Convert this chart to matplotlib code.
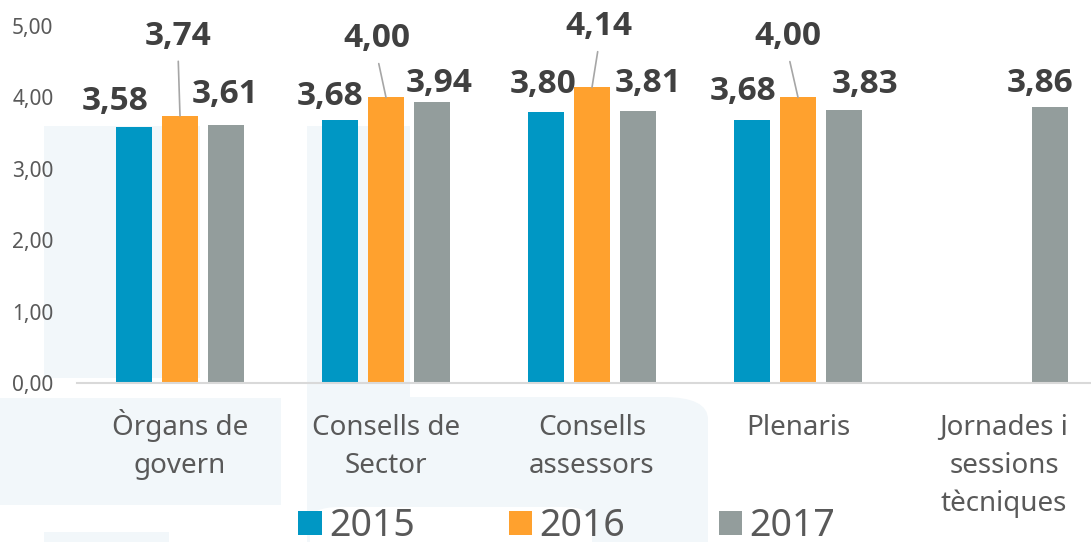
import numpy as np
import matplotlib
matplotlib.use("Agg")
import matplotlib.pyplot as plt
from matplotlib.patches import Rectangle, FancyBboxPatch

plt.rcParams['font.family'] = ['Noto Sans', 'DejaVu Sans']

# data
categories = ["Òrgans de\ngovern", "Consells de\nSector", "Consells\nassessors",
              "Plenaris", "Jornades i\nsessions\ntècniques"]
years = ["2015", "2016", "2017"]
vals_2015 = [3.58, 3.68, 3.80, 3.68, np.nan]
vals_2016 = [3.74, 4.00, 4.14, 4.00, np.nan]
vals_2017 = [3.61, 3.94, 3.81, 3.83, 3.86]
yticks = [0, 1, 2, 3, 4, 5]

colors = ["#0097C4", "#FFA12E", "#939D9C"]
# label offsets (pixels) from bar top, hand placed like the original
label_offsets = [
    [(-19, 17), (-10, 15), (-3, 19), (-9, 20), None],
    [(-2, 71), (-9, 50), (7, 52), (-10, 52), None],
    [(0, 22), (8, 10), (11, 19), (21, 17), (-10, 15)],
]
leader = [False, True, False]

W, H = 1091, 542
fig = plt.figure(figsize=(W / 100, H / 100), dpi=100)
fig.patch.set_facecolor("white")

# faint decorative background blocks
bg = "#F2F7FA"
def px_rect(x0, y0, x1, y1, color=bg, round_pad=None):
    if round_pad:
        p = FancyBboxPatch((x0 / W, 1 - y1 / H), (x1 - x0) / W, (y1 - y0) / H,
                           boxstyle=f"round,pad=0,rounding_size={round_pad / W}",
                           transform=fig.transFigure, facecolor=color,
                           edgecolor="none", zorder=-2)
    else:
        p = Rectangle((x0 / W, 1 - y1 / H), (x1 - x0) / W, (y1 - y0) / H,
                      transform=fig.transFigure, facecolor=color,
                      edgecolor="none", zorder=-2)
    fig.add_artist(p)

px_rect(44, 126, 200, 378)
px_rect(0, 398, 281, 505)
px_rect(44, 532, 169, 560)
px_rect(307, 397, 708, 600, round_pad=45)
px_rect(307, 126, 410, 507)
px_rect(310, 507, 592, 600, color="white", round_pad=30)

x0 = 77
ax = fig.add_axes([x0 / W, (H - 383) / H, (W - x0) / W, (383 - 26) / H])
ax.set_facecolor("none")

x = np.arange(len(categories))
width = 0.175
step = 0.221
series = [vals_2015, vals_2016, vals_2017]
bars = []
for i, vals in enumerate(series):
    b = ax.bar(x + (i - 1) * step, vals, width, color=colors[i], label=years[i], zorder=2)
    bars.append(b)
    for j, v in enumerate(vals):
        if np.isnan(v):
            continue
        dx, dy = label_offsets[i][j]
        txt = f"{v:.2f}".replace(".", ",")
        kw = {}
        if leader[i]:
            kw["arrowprops"] = dict(arrowstyle="-", color="#A6A6A6", lw=1.2,
                                    shrinkA=4, shrinkB=0, relpos=(0.5, 0))
        ax.annotate(txt, xy=(x[j] + (i - 1) * step, v), xytext=(dx, dy),
                    textcoords="offset pixels", ha="center", va="baseline",
                    fontsize=24, fontweight="bold", color="#404040",
                    family=["Open Sans", "DejaVu Sans"], **kw)

# category labels, one line at a time so baselines line up
for xi, cat in zip(x, categories):
    for k, line in enumerate(cat.split("\n")):
        ax.annotate(line, xy=(xi, 0), xycoords=("data", "axes fraction"),
                    xytext=(0, -52 - 38 * k), textcoords="offset pixels",
                    ha="center", va="baseline", fontsize=20, color="#595959",
                    annotation_clip=False)

ax.set_xlim(-0.5, -0.5 + (W - x0) / 206)
ax.set_ylim(0, 5)
ax.set_yticks(yticks)
ax.set_yticklabels([f"{t:.2f}".replace(".", ",") for t in yticks])
ax.set_xticks([])
ax.tick_params(axis="y", length=0, pad=17, labelsize=15, labelcolor="#595959")
for s in ["top", "right", "left"]:
    ax.spines[s].set_visible(False)
ax.spines["bottom"].set_color("#D9D9D9")
ax.spines["bottom"].set_linewidth(1.5)

leg = fig.legend(handles=bars, labels=years, loc="center",
                 bbox_to_anchor=(567 / W, 1 - 526 / H), ncol=3, frameon=False,
                 fontsize=27, handlelength=0.62, handleheight=0.62,
                 handletextpad=0.2, columnspacing=2.5, borderpad=0)
for t in leg.get_texts():
    t.set_color("#595959")

fig.savefig("out.png", dpi=100)
